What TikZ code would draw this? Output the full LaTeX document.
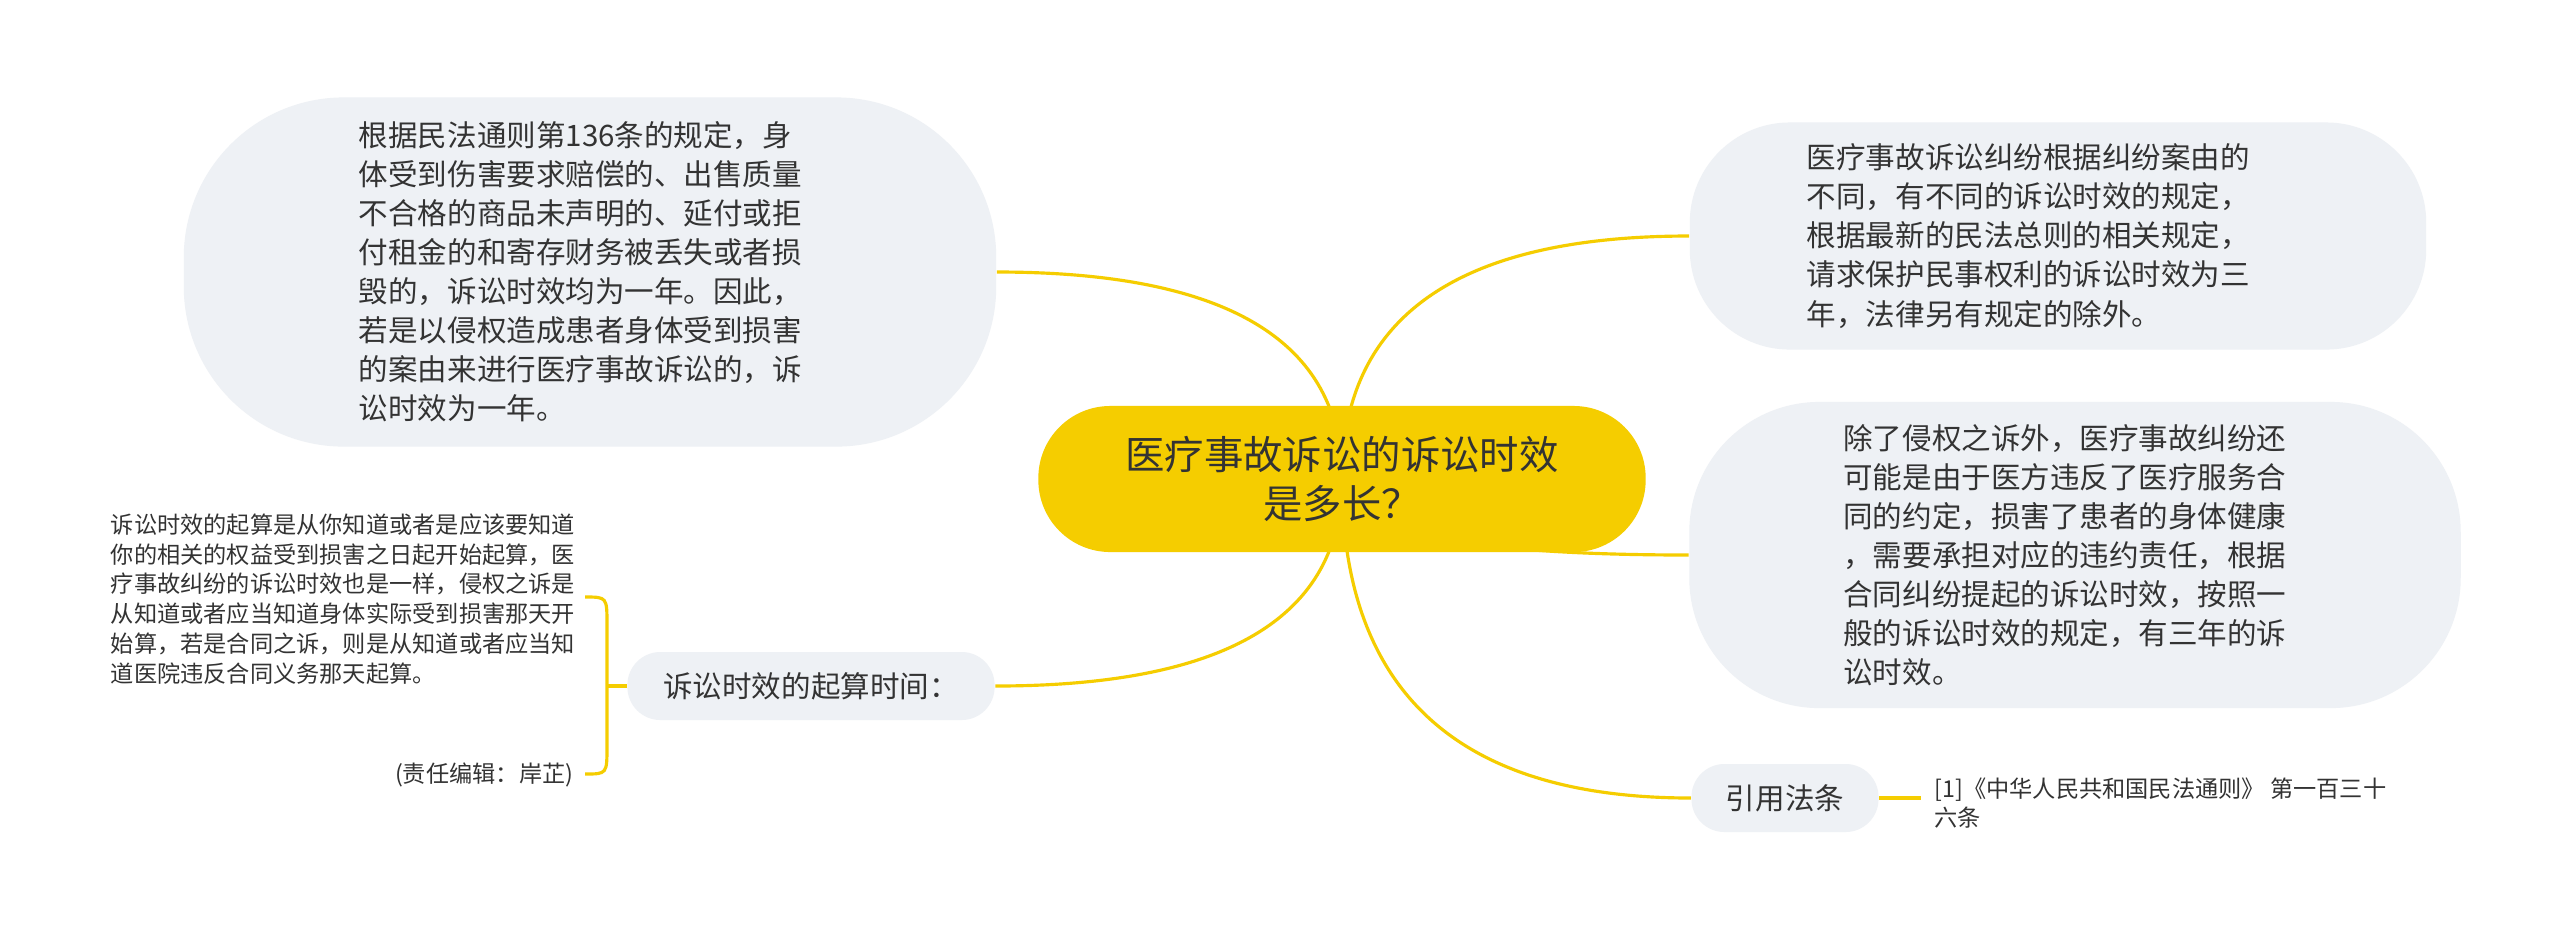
\documentclass[tikz,border=0pt]{standalone}
\usepackage{fontspec}
\setmainfont{Noto Sans CJK SC}
\usetikzlibrary{backgrounds, calc}
\definecolor{mapyellow}{RGB}{245,205,0}
\definecolor{bubblegray}{RGB}{238,241,245}
\definecolor{inktext}{RGB}{51,51,51}

\begin{document}
\begin{tikzpicture}[x=0.01cm, y=-0.01cm, every node/.style={text=inktext, inner sep=0pt},
  topic/.style={fill=mapyellow, rounded corners=0.72cm, minimum width=6.07cm, minimum height=1.46cm, align=center, font=\fontsize{11.2}{13.7}\selectfont},
  bubble/.style={fill=bubblegray, align=left, font=\fontsize{8.4}{11.1}\selectfont},
  subtopic/.style={fill=bubblegray, rounded corners=0.33cm, minimum height=0.68cm, font=\fontsize{8.4}{11.1}\selectfont},
  note/.style={align=left, font=\fontsize{6.6}{8.5}\selectfont},
  branch/.style={draw=mapyellow, line width=0.9pt}]

\useasboundingbox (0,0) rectangle (2560,941);

% curved branch from the root to one side of a node
\def\branchto#1{\draw[branch] (root.center) .. controls ($(root.center)!0.667!(root.center |- #1)$) and ($(#1)!0.667!(root.center |- #1)$) .. (#1);}

  % Nodes
  \node (root) [topic] at (1342,479) {医疗事故诉讼的诉讼时效\\是多长？};
  \node (law) [bubble, minimum width=8.12cm, minimum height=3.49cm, text width=4.62cm, rounded corners=1.6cm] at (590,272) {根据民法通则第136条的规定，身\\体受到伤害要求赔偿的、出售质量\\不合格的商品未声明的、延付或拒\\付租金的和寄存财务被丢失或者损\\毁的，诉讼时效均为一年。因此，\\若是以侵权造成患者身体受到损害\\的案由来进行医疗事故诉讼的，诉\\讼时效为一年。};
  \node (types) [bubble, minimum width=7.36cm, minimum height=2.27cm, text width=5.02cm, rounded corners=1.0cm] at (2058,236) {医疗事故诉讼纠纷根据纠纷案由的\\不同，有不同的诉讼时效的规定，\\根据最新的民法总则的相关规定，\\请求保护民事权利的诉讼时效为三\\年，法律另有规定的除外。};
  \node (contract) [bubble, minimum width=7.71cm, minimum height=3.06cm, text width=4.63cm, rounded corners=1.3cm] at (2075,555) {除了侵权之诉外，医疗事故纠纷还\\可能是由于医方违反了医疗服务合\\同的约定，损害了患者的身体健康\\，需要承担对应的违约责任，根据\\合同纠纷提起的诉讼时效，按照一\\般的诉讼时效的规定，有三年的诉\\讼时效。};
  \node (start) [subtopic, minimum width=3.67cm] at (811,686) {诉讼时效的起算时间：};
  \node (cite) [subtopic, minimum width=1.87cm] at (1785,798) {引用法条};

  % Notes
  \node (startnote) [note] at (343,599) {诉讼时效的起算是从你知道或者是应该要知道\\你的相关的权益受到损害之日起开始起算，医\\疗事故纠纷的诉讼时效也是一样，侵权之诉是\\从知道或者应当知道身体实际受到损害那天开\\始算，若是合同之诉，则是从知道或者应当知\\道医院违反合同义务那天起算。};
  \node (editor) [note, anchor=east] at (574,775) {(责任编辑：岸芷)};
  \node (source) [note, anchor=west, inner xsep=0.13cm] at (1921,803) {[1]《中华人民共和国民法通则》 第一百三十\\六条};

  % Branches
  \begin{scope}[on background layer]
  \fill[white] (0,0) rectangle (2560,941);
  \branchto{law.east}
  \branchto{types.west}
  \branchto{contract.west}
  \branchto{start.east}
  \branchto{cite.west}
  \end{scope}

  % Brace
  \coordinate (bracetop) at (585,597);
  \coordinate (bracebot) at (585,774);
  \coordinate (bracemid) at (607,686);
  \draw[branch] (bracetop) .. controls (607,597) .. (607,625) -- (607,746) .. controls (607,774) .. (bracebot);
  \draw[branch] (bracemid) -- (start.west);
  \draw[branch] (cite.east) -- (cite.east -| source.west);

\end{tikzpicture}
\end{document}
